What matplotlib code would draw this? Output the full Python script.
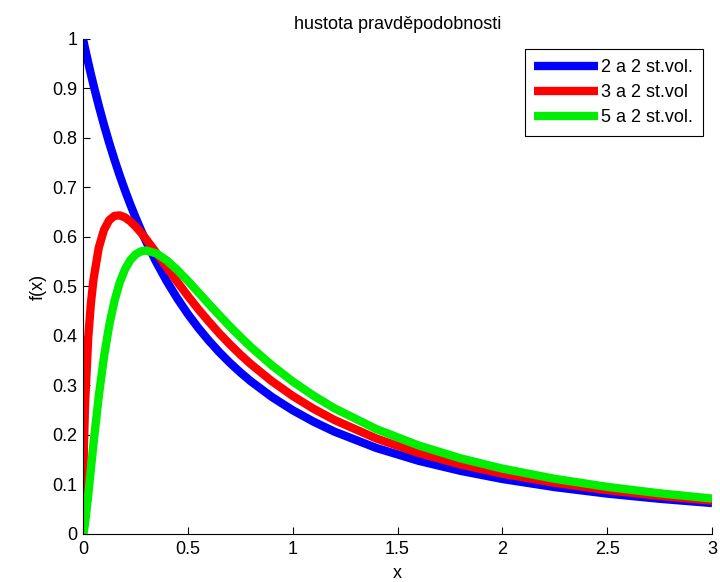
import matplotlib
matplotlib.use('Agg')
import matplotlib.pyplot as plt

plt.rcParams['font.family'] = ['Liberation Sans', 'DejaVu Sans']

# sample points of the densities
x = [0, 0.0025, 0.005, 0.01, 0.025, 0.0375, 0.05, 0.075, 0.1, 0.125, 0.15, 0.175,
     0.2, 0.225, 0.25, 0.275, 0.3, 0.35, 0.4, 0.45, 0.5, 0.55, 0.6, 0.65, 0.7,
     0.75, 0.8, 0.9, 1.0, 1.1, 1.2, 1.4, 1.6, 1.8, 2.0, 2.25, 2.5, 2.75, 3.0]
f22 = [1.0, 0.9950, 0.9901, 0.9803, 0.9518, 0.9290, 0.9070, 0.8653, 0.8264, 0.7901,
       0.7561, 0.7243, 0.6944, 0.6664, 0.64, 0.6151, 0.5917, 0.5487, 0.5102, 0.4756,
       0.4444, 0.4162, 0.3906, 0.3673, 0.3460, 0.3265, 0.3086, 0.2770, 0.25, 0.2268,
       0.2066, 0.1736, 0.1479, 0.1276, 0.1111, 0.0947, 0.0816, 0.0711, 0.0625]
f32 = [0.0, 0.1365, 0.1912, 0.2655, 0.3974, 0.4653, 0.5143, 0.5782, 0.6144, 0.6341,
       0.6426, 0.6437, 0.6396, 0.6318, 0.6216, 0.6094, 0.5962, 0.5677, 0.5382, 0.5091,
       0.4809, 0.4541, 0.4291, 0.4052, 0.3832, 0.3625, 0.3433, 0.3088, 0.2789, 0.2528,
       0.2301, 0.1927, 0.1635, 0.1404, 0.1218, 0.1033, 0.0886, 0.0769, 0.0673]
f52 = [0.0, 0.0030, 0.0084, 0.0227, 0.0790, 0.1311, 0.1829, 0.2781, 0.3578, 0.4215,
       0.4707, 0.5079, 0.5345, 0.5529, 0.5645, 0.5708, 0.5727, 0.5669, 0.5525, 0.5332,
       0.5113, 0.4881, 0.4647, 0.4419, 0.4195, 0.3983, 0.3779, 0.3409, 0.3081, 0.2792,
       0.2537, 0.2117, 0.1789, 0.1529, 0.1321, 0.1114, 0.0952, 0.0822, 0.0716]
labels = ['2 a 2 st.vol.', '3 a 2 st.vol', '5 a 2 st.vol.']

fs = 13

fig = plt.figure(figsize=(7.2, 5.82), dpi=100)
ax = fig.add_axes([0.1153, 0.0825, 0.8737, 0.8505])

style = dict(lw=6.0, solid_joinstyle='round', solid_capstyle='butt')
ax.plot(x, f22, color='#0000ff', label=labels[0], **style)
ax.plot(x, f32, color='#ff0000', label=labels[1], **style)
ax.plot(x, f52, color='#00ee00', label=labels[2], **style)

ax.set_xlim(0, 3)
ax.set_ylim(0, 1)
ax.set_xticks([0, 0.5, 1, 1.5, 2, 2.5, 3])
ax.set_xticklabels(['0', '0.5', '1', '1.5', '2', '2.5', '3'])
ax.set_yticks([i / 10 for i in range(11)])
ax.set_yticklabels(['0'] + ['0.%d' % i for i in range(1, 10)] + ['1'])
ax.tick_params(direction='in', length=5, labelsize=fs)
ax.tick_params(axis='x', pad=5)
ax.tick_params(axis='y', pad=4)
for s in ['top', 'right']:
    ax.spines[s].set_visible(False)

ax.set_title('hustota pravděpodobnosti', fontsize=fs, pad=7)
ax.set_xlabel('x', fontsize=fs, labelpad=5)
ax.set_ylabel('f(x)', fontsize=fs, labelpad=4)

leg = ax.legend(loc='upper right', bbox_to_anchor=(0.9857, 0.9798), fontsize=fs,
                handlelength=3.5, handletextpad=0.2, borderpad=0.55,
                labelspacing=0.45, borderaxespad=0, fancybox=False, framealpha=1)
leg.get_frame().set_edgecolor('black')
leg.get_frame().set_linewidth(0.8)

fig.savefig('out.png', dpi=100)
